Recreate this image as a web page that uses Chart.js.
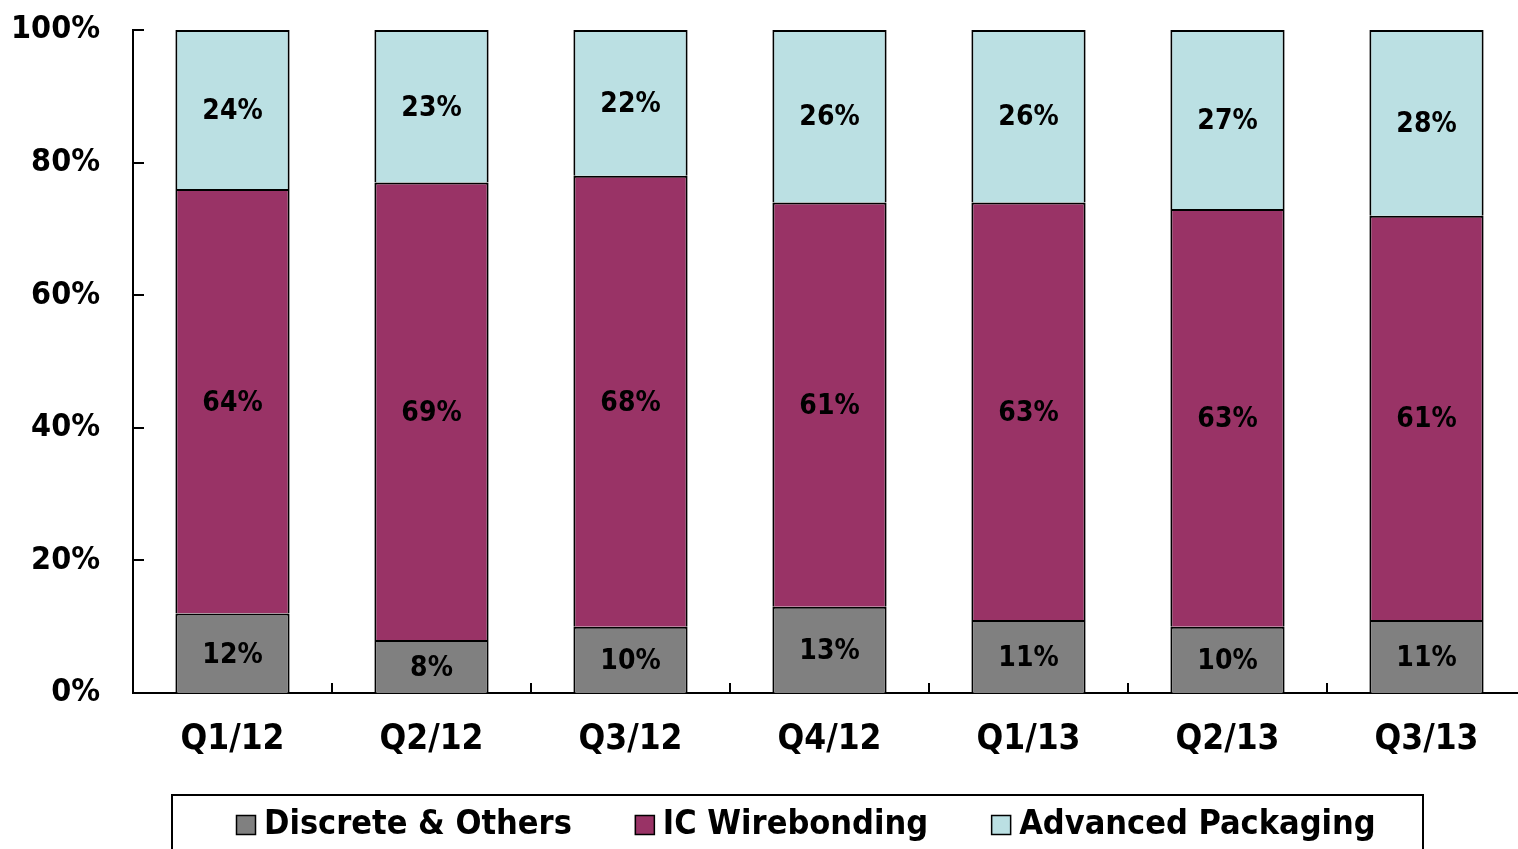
<!DOCTYPE html>
<html>
<head>
<meta charset="utf-8">
<script src="https://cdn.jsdelivr.net/npm/chart.js@4.4.1/dist/chart.umd.min.js"></script>
<style>
  html, body { margin: 0; padding: 0; background: #fff; overflow: hidden; }
  canvas { display: block; }
</style>
</head>
<body>
<canvas id="chart" width="1526" height="849"></canvas>
<script>
// quarters and share of each segment (%)
const quarters = ['Q1/12', 'Q2/12', 'Q3/12', 'Q4/12', 'Q1/13', 'Q2/13', 'Q3/13'];
const discrete = [12, 8, 10, 13, 11, 10, 11];
const icWirebonding = [64, 69, 68, 61, 63, 63, 61];
const advancedPackaging = [24, 23, 22, 26, 26, 27, 28];
const yTicks = [0, 20, 40, 60, 80, 100];

const FONT = '"DejaVu Sans Condensed", "DejaVu Sans", sans-serif';

// value labels in the middle of each segment
const segmentLabels = {
    id: 'segmentLabels',
    afterDatasetsDraw(chart) {
        const ctx = chart.ctx;
        ctx.save();
        ctx.font = 'bold 28px ' + FONT;
        ctx.fillStyle = '#000';
        ctx.textAlign = 'center';
        ctx.textBaseline = 'middle';
        chart.data.datasets.forEach((ds, i) => {
            chart.getDatasetMeta(i).data.forEach((bar, j) => {
                ctx.fillText(ds.data[j] + '%', bar.x, (bar.y + bar.base) / 2 + 2);
            });
        });
        ctx.restore();
    }
};

// tick marks pointing into the plot, plus the boxed legend
const axesAndLegend = {
    id: 'axesAndLegend',
    afterDraw(chart) {
        const ctx = chart.ctx;
        const area = chart.chartArea;
        const x = chart.scales.x;
        const y = chart.scales.y;
        ctx.save();
        ctx.strokeStyle = '#000';
        ctx.lineWidth = 2;
        ctx.beginPath();
        y.ticks.forEach((t) => {
            const py = Math.round(y.getPixelForValue(t.value));
            ctx.moveTo(area.left, py);
            ctx.lineTo(area.left + 11, py);
        });
        for (let i = 0; i < quarters.length - 1; i++) {
            const px = Math.round((x.getPixelForValue(i) + x.getPixelForValue(i + 1)) / 2);
            ctx.moveTo(px, area.bottom);
            ctx.lineTo(px, area.bottom - 10);
        }
        ctx.stroke();

        // legend
        ctx.lineWidth = 2;
        ctx.strokeRect(172, 795, 1251, 80);
        ctx.font = 'bold 34px ' + FONT;
        ctx.textBaseline = 'middle';
        ctx.textAlign = 'left';
        let lx = 236;
        const ly = 825;
        chart.data.datasets.forEach((ds) => {
            ctx.fillStyle = ds.backgroundColor;
            ctx.fillRect(lx, ly - 10, 20, 20);
            ctx.lineWidth = 1.5;
            ctx.strokeRect(lx + 0.5, ly - 9.5, 19, 19);
            ctx.fillStyle = '#000';
            ctx.fillText(ds.label, lx + 28, ly);
            lx += 28 + ctx.measureText(ds.label).width + 63;
        });
        ctx.restore();
    }
};

const chart = new Chart(document.getElementById('chart'), {
    type: 'bar',
    data: {
        labels: quarters,
        datasets: [
            { label: 'Discrete & Others', data: discrete, backgroundColor: '#808080' },
            { label: 'IC Wirebonding', data: icWirebonding, backgroundColor: '#993366' },
            { label: 'Advanced Packaging', data: advancedPackaging, backgroundColor: '#BBE0E3' },
        ].map((d) => Object.assign(d, {
            borderColor: '#000',
            borderWidth: 2,
            categoryPercentage: 1,
            barPercentage: 0.574,
        })),
    },
    options: {
        responsive: false,
        animation: false,
        layout: { padding: { top: 30, left: 12, right: 0, bottom: 76 } },
        plugins: {
            legend: { display: false },
            tooltip: { enabled: false },
        },
        scales: {
            x: {
                stacked: true,
                grid: { display: false, drawTicks: false },
                border: { color: '#000', width: 2 },
                ticks: {
                    color: '#000',
                    font: { family: FONT, size: 35, weight: 'bold' },
                    padding: 26,
                    maxRotation: 0,
                },
                afterFit: (scale) => {
                    scale.height = 80;
                    scale.paddingLeft = 0;
                    scale.paddingRight = 0;
                },
            },
            y: {
                stacked: true,
                min: 0,
                max: 100,
                afterBuildTicks: (scale) => { scale.ticks = yTicks.map((v) => ({ value: v })); },
                grid: { display: false, drawTicks: false },
                border: { color: '#000', width: 2 },
                ticks: {
                    color: '#000',
                    font: { family: FONT, size: 32, weight: 'bold' },
                    padding: 33,
                    callback: (v) => v + '%',
                },
                afterFit: (scale) => {
                    scale.width = 121;
                    scale.paddingTop = 0;
                    scale.paddingBottom = 0;
                },
            },
        },
    },
    plugins: [segmentLabels, axesAndLegend],
});
</script>
</body>
</html>
